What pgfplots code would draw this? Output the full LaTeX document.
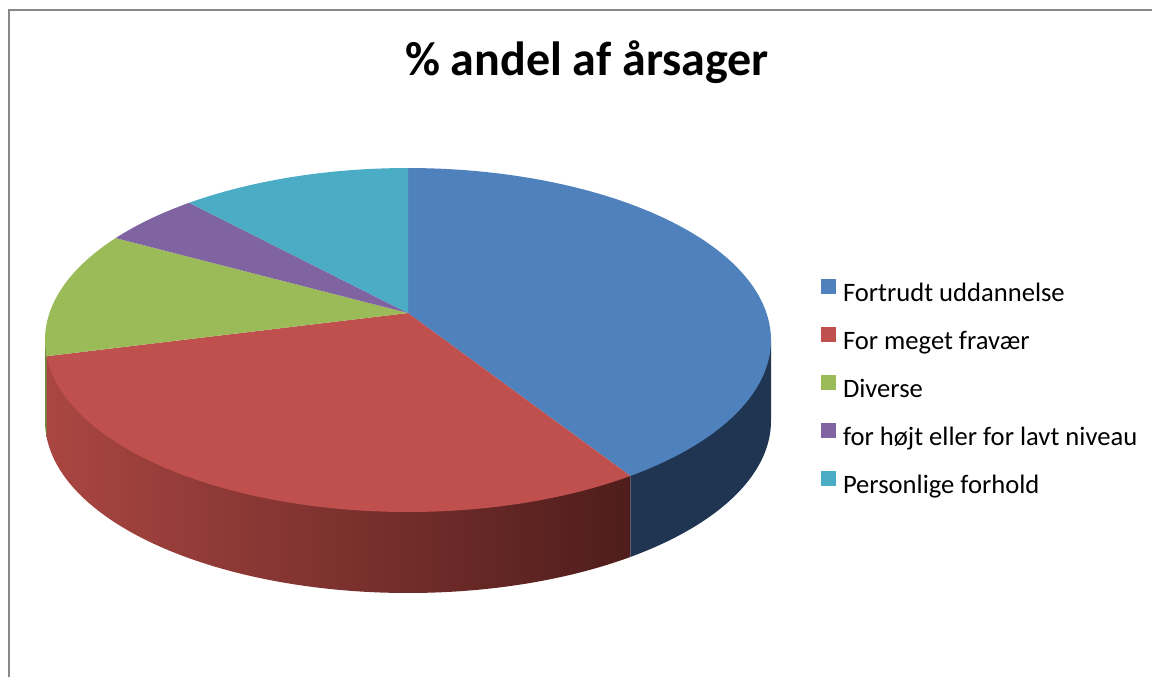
\documentclass[border=0pt]{standalone}
\usepackage{fontspec}
\setmainfont{Carlito}
\usepackage{pgfplots}
\usepackage{pgfplotstable}
\pgfplotsset{compat=1.18}
\definecolor{cBlue}{HTML}{4F81BD}
\definecolor{cRed}{HTML}{C0504D}
\definecolor{cGreen}{HTML}{9BBB59}
\definecolor{cPurple}{HTML}{8064A2}
\definecolor{cCyan}{HTML}{4BACC6}
\definecolor{sBlue}{HTML}{1F3552}
\definecolor{sRedL}{HTML}{AA4642}
\definecolor{sRedR}{HTML}{4E1D1B}
\definecolor{sGreen}{HTML}{6E8A3A}
\definecolor{frame}{HTML}{888888}

\pgfplotstableread{
share
39.5
34.0
11.6
4.6
10.3
}\shares
\pgfplotstablegetelem{0}{share}\of\shares \pgfmathsetmacro\aB{90-3.6*\pgfplotsretval}
\pgfplotstablegetelem{1}{share}\of\shares \pgfmathsetmacro\aC{\aB-3.6*\pgfplotsretval}
\pgfplotstablegetelem{2}{share}\of\shares \pgfmathsetmacro\aD{\aC-3.6*\pgfplotsretval}
\pgfplotstablegetelem{3}{share}\of\shares \pgfmathsetmacro\aE{\aD-3.6*\pgfplotsretval}
\pgfplotstablegetelem{4}{share}\of\shares \pgfmathsetmacro\aF{\aE-3.6*\pgfplotsretval}
\def\aA{90}
\def\cx{408}\def\cy{340}\def\rx{363}\def\ry{172}\def\dep{81}
\def\px{408}\def\py{313}

\begin{document}
\begin{tikzpicture}
\begin{axis}[
  scale only axis, width=576pt, height=338.5pt,
  xmin=0, xmax=1152, ymin=0, ymax=677, y dir=reverse,
  hide axis, clip=false, no markers,
  legend style={at={(axis cs:821,279)}, anchor=north west, draw=none, fill=none,
    inner sep=0pt, outer sep=0pt, row sep=10pt, column sep=3.5pt,
    font=\fontsize{13.3}{15}\selectfont,
    nodes={inner sep=0pt, text height=9pt, text depth=3pt}},
  legend cell align=left,
  legend image code/.code={\fill[#1, draw=none] (0pt,0.5pt) rectangle (7.5pt,8pt);},
]
\coordinate (bbA) at (axis cs:0,677);
\coordinate (bbB) at (axis cs:1152,0);
% frame
\draw[frame, line width=1pt] (axis cs:1152,10) -- (axis cs:9,10) -- (axis cs:9,677);
% sides (front half)
\addplot[forget plot, draw=none, fill=sBlue, domain=\aB:0, samples=60, variable=\t]
  ({\cx+\rx*cos(\t)},{\cy+\dep-\ry*sin(\t)}) -- (axis cs:{\cx+\rx},{\cy}) -- (axis cs:{\cx+\rx*cos(\aB)},{\cy-\ry*sin(\aB)}) -- cycle;
\addplot[forget plot, draw=none, left color=sRedL, right color=sRedR, domain=\aC:\aB, samples=80, variable=\t]
  ({\cx+\rx*cos(\t)},{\cy+\dep-\ry*sin(\t)}) -- (axis cs:{\cx+\rx*cos(\aB)},{\cy-\ry*sin(\aB)}) -- (axis cs:{\cx+\rx*cos(\aC)},{\cy-\ry*sin(\aC)}) -- cycle;
\addplot[forget plot, draw=none, fill=sGreen, domain=-180:\aC, samples=10, variable=\t]
  ({\cx+\rx*cos(\t)},{\cy+\dep-\ry*sin(\t)}) -- (axis cs:{\cx+\rx*cos(\aC)},{\cy-\ry*sin(\aC)}) -- (axis cs:{\cx-\rx},{\cy}) -- cycle;
% top face
\addplot[forget plot, draw=none, fill=cBlue, domain=\aB:\aA, samples=80, variable=\t]
  ({\cx+\rx*cos(\t)},{\cy-\ry*sin(\t)}) -- (axis cs:\px,\py) -- cycle;
\addplot[forget plot, draw=none, fill=cRed, domain=\aC:\aB, samples=80, variable=\t]
  ({\cx+\rx*cos(\t)},{\cy-\ry*sin(\t)}) -- (axis cs:\px,\py) -- cycle;
\addplot[forget plot, draw=none, fill=cGreen, domain=\aD:\aC, samples=40, variable=\t]
  ({\cx+\rx*cos(\t)},{\cy-\ry*sin(\t)}) -- (axis cs:\px,\py) -- cycle;
\addplot[forget plot, draw=none, fill=cPurple, domain=\aE:\aD, samples=20, variable=\t]
  ({\cx+\rx*cos(\t)},{\cy-\ry*sin(\t)}) -- (axis cs:\px,\py) -- cycle;
\addplot[forget plot, draw=none, fill=cCyan, domain=\aF:\aE, samples=40, variable=\t]
  ({\cx+\rx*cos(\t)},{\cy-\ry*sin(\t)}) -- (axis cs:\px,\py) -- cycle;
% legend
\addlegendimage{fill=cBlue}
\addlegendentry{Fortrudt uddannelse}
\addlegendimage{fill=cRed}
\addlegendentry{For meget fravær}
\addlegendimage{fill=cGreen}
\addlegendentry{Diverse}
\addlegendimage{fill=cPurple}
\addlegendentry{for højt eller for lavt niveau}
\addlegendimage{fill=cCyan}
\addlegendentry{Personlige forhold}
% title
\node[anchor=base, font=\bfseries\fontsize{24}{29}\selectfont, inner sep=0pt] at (axis cs:587,75) {\% andel af årsager};
\end{axis}
\pgfresetboundingbox
\path[use as bounding box] (bbA) rectangle (bbB);
\end{tikzpicture}
\end{document}
